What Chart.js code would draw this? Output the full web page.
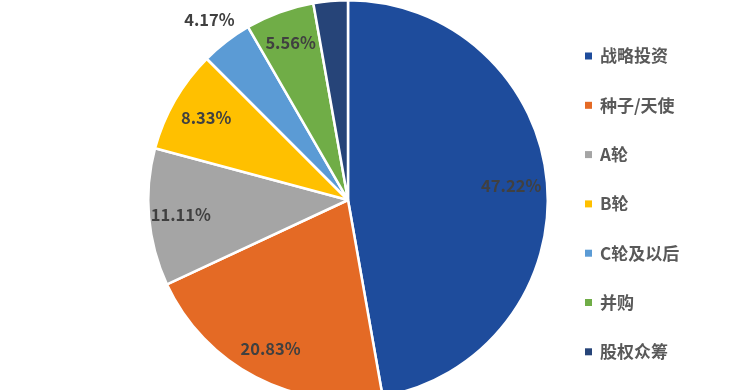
<!DOCTYPE html>
<html>
<head>
<meta charset="utf-8">
<script src="https://cdn.jsdelivr.net/npm/chart.js@4"></script>
<style>
  html, body { margin: 0; padding: 0; background: #fff; overflow: hidden; }
  #wrap { position: absolute; left: 0; top: -2px; width: 750px; height: 404px; }
</style>
</head>
<body>
<div id="wrap"><canvas id="pie"></canvas></div>
<script>
// 数据 (72 个样本的占比)
const labels = ['战略投资', '种子/天使', 'A轮', 'B轮', 'C轮及以后', '并购', '股权众筹'];
const counts = [34, 15, 8, 6, 3, 4, 2];
const pctLabels = ['47.22%', '20.83%', '11.11%', '8.33%', '4.17%', '5.56%', '2.78%'];
const colors = ['#1E4C9C', '#E46A25', '#A5A5A5', '#FFC000', '#5B9BD5', '#70AD47', '#264478'];

// 标签离圆心的距离 (半径倍数)
const labelDist = [0.82, 0.84, 0.84, 0.82, 1.14, 0.84, 1.06];
const FONT = '"Noto Sans CJK SC", "Noto Sans", sans-serif';

const pctPlugin = {
    id: 'pctPlugin',
    afterDatasetsDraw(chart) {
        const ctx = chart.ctx;
        const meta = chart.getDatasetMeta(0);
        ctx.save();
        ctx.font = 'bold 16.5px ' + FONT;
        ctx.fillStyle = '#404040';
        ctx.textAlign = 'center';
        ctx.textBaseline = 'middle';
        meta.data.forEach((arc, i) => {
            const p = arc.getProps(['x', 'y', 'startAngle', 'endAngle', 'outerRadius'], true);
            const mid = (p.startAngle + p.endAngle) / 2;
            const r = p.outerRadius * labelDist[i];
            ctx.fillText(pctLabels[i], p.x + Math.cos(mid) * r, p.y + Math.sin(mid) * r);
        });
        ctx.restore();
    }
};

// legend kanan, digambar manual
const legendPlugin = {
    id: 'legendPlugin',
    afterDraw(chart) {
        const ctx = chart.ctx;
        ctx.save();
        ctx.font = 'bold 17px ' + FONT;
        ctx.textBaseline = 'middle';
        chart.data.labels.forEach((lab, i) => {
            const y = 58 + i * 49.3;
            ctx.fillStyle = chart.data.datasets[0].backgroundColor[i];
            ctx.fillRect(585, y - 3.5, 7, 7);
            ctx.fillStyle = '#595959';
            ctx.fillText(lab, 600, y);
        });
        ctx.restore();
    }
};

new Chart(document.getElementById('pie'), {
    type: 'pie',
    data: {
        labels: labels,
        datasets: [{
            data: counts,
            backgroundColor: colors,
            borderColor: '#ffffff',
            borderWidth: 2.5
        }]
    },
    options: {
        responsive: true,
        maintainAspectRatio: false,
        animation: false,
        layout: { padding: { left: 147, right: 201, top: 0, bottom: 0 } },
        plugins: { legend: { display: false }, tooltip: { enabled: false } }
    },
    plugins: [pctPlugin, legendPlugin]
});
</script>
</body>
</html>
